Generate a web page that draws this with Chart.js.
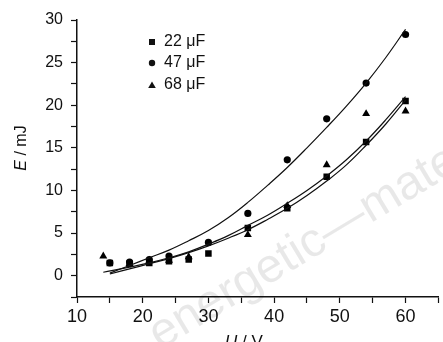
<!DOCTYPE html>
<html lang="en">
<head>
    <meta charset="UTF-8">
    <title>E vs U</title>
    <style>
        body { margin: 0; background: #fff; }
        #wrap { width: 443px; height: 342px; position: relative; }
    </style>
</head>
<body>
    <div id="wrap"><canvas id="chart" width="443" height="342"></canvas></div>

    <script src="https://cdn.jsdelivr.net/npm/chart.js"></script>
    <script>
        // measured points (U in V, E in mJ)
        const u22 = [15, 18, 21, 24, 27, 30, 36, 42, 48, 54, 60];
        const e22 = [1.5, 1.4, 1.5, 1.7, 1.9, 2.6, 5.6, 7.9, 11.6, 15.7, 20.5];
        const u47 = [15, 18, 21, 24, 30, 36, 42, 48, 54, 60];
        const e47 = [1.5, 1.6, 1.9, 2.3, 3.9, 7.3, 13.6, 18.4, 22.6, 28.3];
        const u68 = [14, 18, 21, 24, 27, 36, 42, 48, 54, 60];
        const e68 = [2.3, 1.4, 1.8, 1.8, 2.2, 4.8, 8.2, 13.0, 19.0, 19.3];

        // fitted curves
        const fitU47 = [15, 18, 21, 24, 27, 30, 33, 36, 39, 42, 45, 48, 51, 54, 57, 60];
        const fitE47 = [0.3, 1.2, 2.1, 3.0, 4.1, 5.3, 6.8, 8.6, 10.6, 12.7, 15.0, 17.4, 19.9, 22.6, 25.6, 28.9];
        const fitU68 = [14, 18, 21, 24, 27, 30, 33, 36, 39, 42, 45, 48, 51, 54, 57, 60];
        const fitE68 = [0.4, 1.0, 1.5, 2.1, 2.8, 3.7, 4.7, 5.9, 7.1, 8.5, 10.0, 11.7, 13.6, 15.8, 18.3, 21.0];
        const fitU22 = [15, 18, 21, 24, 27, 30, 33, 36, 39, 42, 45, 48, 51, 54, 57, 60];
        const fitE22 = [0.2, 0.8, 1.4, 2.0, 2.7, 3.5, 4.4, 5.4, 6.6, 7.9, 9.4, 11.1, 13.0, 15.3, 17.8, 20.6];

        const legendLabels = ['22 \u03bcF', '47 \u03bcF', '68 \u03bcF'];
        const legendStyles = ['rect', 'circle', 'triangle'];

        const FONT = "'Liberation Sans', Arial, sans-serif";

        function pts(xs, ys) {
            return xs.map((x, i) => ({ x: x, y: ys[i] }));
        }

        function markerSet(label, xs, ys, style, r) {
            return {
                label: label,
                data: pts(xs, ys),
                pointStyle: style,
                pointRadius: r,
                backgroundColor: '#000',
                borderColor: '#000',
                borderWidth: 0,
                showLine: false
            };
        }

        function fitSet(xs, ys) {
            return {
                label: 'fit',
                data: pts(xs, ys),
                showLine: true,
                pointRadius: 0,
                borderColor: '#111',
                borderWidth: 1.2,
                tension: 0.4,
                fill: false
            };
        }

        // legend, axis titles and watermark drawn by hand
        const extras = {
            id: 'extras',
            beforeDatasetsDraw(chart) {
                const ctx = chart.ctx;
                ctx.save();
                ctx.translate(160, 350);
                ctx.rotate(-31 * Math.PI / 180);
                ctx.font = '48px ' + FONT;
                ctx.fillStyle = 'rgba(0,0,0,0.09)';
                ctx.fillText('energetic\u2014materials', 0, 0);
                ctx.restore();
            },
            afterDraw(chart) {
                const ctx = chart.ctx;
                ctx.save();
                ctx.fillStyle = '#111';
                ctx.textBaseline = 'middle';
                ctx.font = '16px ' + FONT;
                const rows = [42, 63, 85];
                rows.forEach((y, i) => {
                    const mx = 152;
                    ctx.beginPath();
                    if (legendStyles[i] === 'rect') {
                        ctx.rect(mx - 3, y - 3, 6, 6);
                    } else if (legendStyles[i] === 'circle') {
                        ctx.arc(mx, y, 3.2, 0, Math.PI * 2);
                    } else {
                        ctx.moveTo(mx, y - 3.5);
                        ctx.lineTo(mx + 3.8, y + 3);
                        ctx.lineTo(mx - 3.8, y + 3);
                        ctx.closePath();
                    }
                    ctx.fill();
                    ctx.fillText(legendLabels[i], 164, y);
                });

                // y title: E / mJ
                ctx.save();
                ctx.translate(22, 148);
                ctx.rotate(-Math.PI / 2);
                ctx.textBaseline = 'middle';
                ctx.font = 'italic 16px ' + FONT;
                const a = ctx.measureText('E').width;
                ctx.font = '16px ' + FONT;
                const b = ctx.measureText(' / mJ').width;
                let sx = -(a + b) / 2;
                ctx.font = 'italic 16px ' + FONT;
                ctx.fillText('E', sx, 0);
                ctx.font = '16px ' + FONT;
                ctx.fillText(' / mJ', sx + a, 0);
                ctx.restore();

                // x title: U / V
                ctx.textBaseline = 'alphabetic';
                ctx.font = 'italic 17px ' + FONT;
                const c = ctx.measureText('U').width;
                ctx.font = '17px ' + FONT;
                const d = ctx.measureText(' / V').width;
                let tx = 244 - (c + d) / 2;
                ctx.font = 'italic 17px ' + FONT;
                ctx.fillText('U', tx, 347);
                ctx.font = '17px ' + FONT;
                ctx.fillText(' / V', tx + c, 347);
                ctx.restore();
            }
        };

        const ctx = document.getElementById('chart').getContext('2d');
        new Chart(ctx, {
            type: 'scatter',
            data: {
                datasets: [
                    fitSet(fitU47, fitE47),
                    fitSet(fitU68, fitE68),
                    fitSet(fitU22, fitE22),
                    markerSet(legendLabels[0], u22, e22, 'rect', 4.6),
                    markerSet(legendLabels[1], u47, e47, 'circle', 3.6),
                    markerSet(legendLabels[2], u68, e68, 'triangle', 4.6)
                ]
            },
            options: {
                responsive: false,
                animation: false,
                layout: { padding: { top: 20, right: 0, left: 0, bottom: 0 } },
                plugins: {
                    legend: { display: false },
                    tooltip: { enabled: false }
                },
                scales: {
                    x: {
                        type: 'linear',
                        min: 10,
                        max: 65,
                        afterFit: s => { s.height = 45; },
                        border: { color: '#111', width: 1.5 },
                        grid: { drawOnChartArea: false, tickLength: 6, tickColor: '#111', tickWidth: 1.2 },
                        ticks: {
                            stepSize: 5,
                            padding: 3,
                            maxRotation: 0,
                            autoSkip: false,
                            color: '#111',
                            font: { family: FONT, size: 18 },
                            callback: v => (v % 10 === 0 ? v : '')
                        }
                    },
                    y: {
                        type: 'linear',
                        min: -2.5,
                        max: 30,
                        afterFit: s => { s.width = 77; },
                        border: { color: '#111', width: 1.5 },
                        grid: { drawOnChartArea: false, tickLength: 6, tickColor: '#111', tickWidth: 1.2 },
                        ticks: {
                            stepSize: 2.5,
                            padding: 8,
                            autoSkip: false,
                            color: '#111',
                            font: { family: FONT, size: 16 },
                            callback: v => (v % 5 === 0 ? v : '')
                        }
                    }
                }
            },
            plugins: [extras]
        });
    </script>
</body>
</html>
